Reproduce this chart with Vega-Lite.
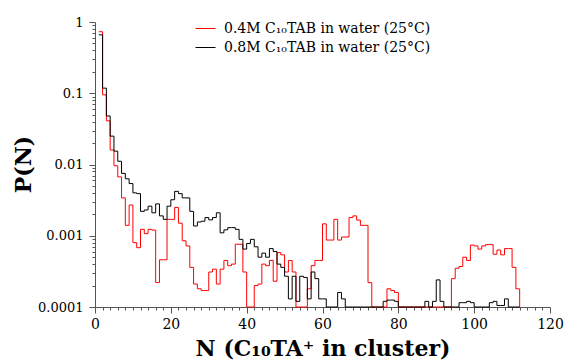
{
  "$schema": "https://vega.github.io/schema/vega-lite/v6.json",
  "width": 455,
  "height": 285,
  "autosize": {"type": "none"},
  "padding": {"left": 95, "top": 22, "right": 18, "bottom": 56},
  "background": "white",
  "config": {"view": {"stroke": null}, "font": "DejaVu Serif"},
  "data": {
    "values": [
      {"N": 1, "r": 0.73, "k": 0.66},
      {"N": 2, "r": 0.095, "k": 0.118},
      {"N": 3, "r": 0.041, "k": 0.048},
      {"N": 4, "r": 0.016, "k": 0.025},
      {"N": 5, "r": 0.0096, "k": 0.0154},
      {"N": 6, "r": 0.0067, "k": 0.0111},
      {"N": 7, "r": 0.0034, "k": 0.0075},
      {"N": 8, "r": 0.0014, "k": 0.0063},
      {"N": 9, "r": 0.0027, "k": 0.0054},
      {"N": 10, "r": 0.0008, "k": 0.004},
      {"N": 11, "r": 0.00068, "k": 0.0039},
      {"N": 12, "r": 0.00123, "k": 0.0022},
      {"N": 13, "r": 0.00107, "k": 0.0023},
      {"N": 14, "r": 0.00123, "k": 0.0026},
      {"N": 15, "r": 0.0012, "k": 0.0021},
      {"N": 16, "r": 0.00022, "k": 0.0028},
      {"N": 17, "r": 0.00046, "k": 0.0019},
      {"N": 18, "r": 0.00046, "k": 0.0017},
      {"N": 19, "r": 0.0017, "k": 0.0026},
      {"N": 20, "r": 0.0017, "k": 0.0032},
      {"N": 21, "r": 0.0025, "k": 0.0042},
      {"N": 22, "r": 0.0015, "k": 0.0039},
      {"N": 23, "r": 0.00085, "k": 0.0034},
      {"N": 24, "r": 0.00072, "k": 0.0034},
      {"N": 25, "r": 0.00036, "k": 0.0022},
      {"N": 26, "r": 0.00021, "k": 0.00137},
      {"N": 27, "r": 0.00018, "k": 0.00156},
      {"N": 28, "r": 0.00017, "k": 0.0016},
      {"N": 29, "r": 0.00017, "k": 0.0018},
      {"N": 30, "r": 0.00031, "k": 0.00167},
      {"N": 31, "r": 0.00034, "k": 0.0018},
      {"N": 32, "r": 0.00021, "k": 0.0021},
      {"N": 33, "r": 0.00034, "k": 0.0011},
      {"N": 34, "r": 0.00045, "k": 0.00121},
      {"N": 35, "r": 0.00038, "k": 0.0013},
      {"N": 36, "r": 0.0004, "k": 0.0013},
      {"N": 37, "r": 0.00076, "k": 0.00123},
      {"N": 38, "r": 0.00076, "k": 0.00089},
      {"N": 39, "r": 0.00031, "k": 0.00065},
      {"N": 40, "r": 0.0001, "k": 0.00078},
      {"N": 41, "r": 0.0001, "k": 0.00089},
      {"N": 42, "r": 0.0002, "k": 0.0007},
      {"N": 43, "r": 0.00021, "k": 0.0005},
      {"N": 44, "r": 0.0004, "k": 0.00057},
      {"N": 45, "r": 0.00038, "k": 0.0005},
      {"N": 46, "r": 0.00045, "k": 0.00066},
      {"N": 47, "r": 0.00023, "k": 0.0006},
      {"N": 48, "r": 0.00058, "k": 0.0004},
      {"N": 49, "r": 0.00054, "k": 0.00036},
      {"N": 50, "r": 0.00031, "k": 0.00027},
      {"N": 51, "r": 0.00045, "k": 0.00013},
      {"N": 52, "r": 0.00031, "k": 0.00027},
      {"N": 53, "r": 0.0001, "k": 0.00012},
      {"N": 54, "r": 0.0001, "k": 0.00027},
      {"N": 55, "r": 0.0001, "k": 0.00026},
      {"N": 56, "r": 0.00018, "k": 0.00013},
      {"N": 57, "r": 0.00038, "k": 0.00031},
      {"N": 58, "r": 0.00045, "k": 0.00025},
      {"N": 59, "r": 0.00045, "k": 0.00013},
      {"N": 60, "r": 0.00147, "k": 0.00013},
      {"N": 61, "r": 0.00087, "k": 0.0001},
      {"N": 62, "r": 0.00087, "k": 0.0001},
      {"N": 63, "r": 0.0017, "k": 0.0001},
      {"N": 64, "r": 0.00087, "k": 0.00016},
      {"N": 65, "r": 0.00096, "k": 0.00013},
      {"N": 66, "r": 0.00096, "k": 0.0001},
      {"N": 67, "r": 0.0018, "k": 0.0001},
      {"N": 68, "r": 0.0019, "k": 0.0001},
      {"N": 69, "r": 0.00166, "k": 0.0001},
      {"N": 70, "r": 0.0014, "k": 0.0001},
      {"N": 71, "r": 0.0014, "k": 0.0001},
      {"N": 72, "r": 0.00022, "k": 0.0001},
      {"N": 73, "r": 0.0001, "k": 0.0001},
      {"N": 74, "r": 0.0001, "k": 0.0001},
      {"N": 75, "r": 0.0001, "k": 0.0001},
      {"N": 76, "r": 0.0001, "k": 0.00012},
      {"N": 77, "r": 0.00018, "k": 0.000125},
      {"N": 78, "r": 0.00017, "k": 0.000125},
      {"N": 79, "r": 0.00016, "k": 0.00012},
      {"N": 80, "r": 0.0001, "k": 0.0001},
      {"N": 81, "r": 0.0001, "k": 0.0001},
      {"N": 82, "r": 0.0001, "k": 0.0001},
      {"N": 83, "r": 0.0001, "k": 0.0001},
      {"N": 84, "r": 0.0001, "k": 0.0001},
      {"N": 85, "r": 0.0001, "k": 0.0001},
      {"N": 86, "r": 0.0001, "k": 0.0001},
      {"N": 87, "r": 0.0001, "k": 0.00012},
      {"N": 88, "r": 0.0001, "k": 0.0001},
      {"N": 89, "r": 0.0001, "k": 0.00012},
      {"N": 90, "r": 0.0001, "k": 0.00024},
      {"N": 91, "r": 0.0001, "k": 0.00012},
      {"N": 92, "r": 0.0001, "k": 0.0001},
      {"N": 93, "r": 0.0001, "k": 0.0001},
      {"N": 94, "r": 0.00025, "k": 0.0001},
      {"N": 95, "r": 0.00035, "k": 0.0001},
      {"N": 96, "r": 0.00037, "k": 0.000115},
      {"N": 97, "r": 0.0005, "k": 0.000115},
      {"N": 98, "r": 0.00045, "k": 0.00012},
      {"N": 99, "r": 0.00074, "k": 0.000115},
      {"N": 100, "r": 0.00072, "k": 0.0001},
      {"N": 101, "r": 0.00065, "k": 0.0001},
      {"N": 102, "r": 0.00072, "k": 0.0001},
      {"N": 103, "r": 0.00075, "k": 0.0001},
      {"N": 104, "r": 0.00075, "k": 0.000115},
      {"N": 105, "r": 0.00055, "k": 0.00012},
      {"N": 106, "r": 0.00063, "k": 0.000105},
      {"N": 107, "r": 0.00054, "k": 0.000105},
      {"N": 108, "r": 0.00066, "k": 0.00013},
      {"N": 109, "r": 0.00066, "k": 0.0001},
      {"N": 110, "r": 0.00036, "k": 0.0001},
      {"N": 111, "r": 0.00018, "k": 0.0001},
      {"N": 112, "r": 0.0001, "k": 0.0001}
    ]
  },
  "transform": [{"fold": ["r", "k"], "as": ["series", "P"]}],
  "mark": {"type": "line", "interpolate": "step-after", "strokeWidth": 1},
  "encoding": {
    "x": {
      "field": "N",
      "type": "quantitative",
      "scale": {"domain": [0, 120], "nice": false, "zero": false},
      "axis": {
        "values": [0,2,4,6,8,10,12,14,16,18,20,22,24,26,28,30,32,34,36,38,40,42,44,46,48,50,52,54,56,58,60,62,64,66,68,70,72,74,76,78,80,82,84,86,88,90,92,94,96,98,100,102,104,106,108,110,112,114,116,118,120],
        "labelExpr": "datum.value % 20 == 0 ? datum.label : ''",
        "tickSize": {"condition": {"test": "datum.value % 20 == 0", "value": 6}, "value": 3},
        "title": "N (C₁₀TA⁺ in cluster)",
        "titleFont": "DejaVu Serif",
        "titleFontSize": 22,
        "titleFontWeight": "bold",
        "titleColor": "#000000",
        "titleBaseline": "alphabetic",
        "titleY": 48,
        "labelFont": "DejaVu Serif",
        "labelFontSize": 14,
        "labelColor": "#000000",
        "labelPadding": 4,
        "labelOverlap": false,
        "labelFlush": false,
        "grid": false,
        "domainColor": "#555555",
        "tickColor": "#555555"
      }
    },
    "y": {
      "field": "P",
      "type": "quantitative",
      "scale": {"type": "log", "domain": [0.0001, 1], "nice": false},
      "axis": {
        "values": [0.0001,0.0002,0.0003,0.0004,0.0005,0.0006,0.0007,0.0008,0.0009,0.001,0.002,0.003,0.004,0.005,0.006,0.007,0.008,0.009,0.01,0.02,0.03,0.04,0.05,0.06,0.07,0.08,0.09,0.1,0.2,0.3,0.4,0.5,0.6,0.7,0.8,0.9,1],
        "labelExpr": "datum.value == 1 ? '1' : datum.value == 0.1 ? '0.1' : datum.value == 0.01 ? '0.01' : datum.value == 0.001 ? '0.001' : datum.value == 0.0001 ? '0.0001' : ''",
        "tickSize": {"condition": {"test": "datum.value == 1 || datum.value == 0.1 || datum.value == 0.01 || datum.value == 0.001 || datum.value == 0.0001", "value": 6}, "value": 3},
        "title": "P(N)",
        "titleFont": "DejaVu Serif",
        "titleFontSize": 22,
        "titleFontWeight": "bold",
        "titleColor": "#000000",
        "titleAngle": -90,
        "titleBaseline": "middle",
        "titleAlign": "center",
        "titleX": -72,
        "titleY": 142,
        "labelFont": "DejaVu Serif",
        "labelFontSize": 13,
        "labelColor": "#000000",
        "labelPadding": 6,
        "labelOverlap": false,
        "labelFlush": false,
        "grid": false,
        "domainColor": "#555555",
        "tickColor": "#555555"
      }
    },
    "color": {
      "field": "series",
      "type": "nominal",
      "scale": {"domain": ["r", "k"], "range": ["#ff0000", "#000000"]},
      "legend": {
        "orient": "none",
        "legendX": 100,
        "legendY": -4,
        "title": null,
        "symbolType": "stroke",
        "symbolSize": 400,
        "symbolStrokeWidth": 1,
        "rowPadding": 1,
        "labelOffset": 8,
        "labelLimit": 400,
        "labelFont": "DejaVu Serif",
        "labelFontSize": 14,
        "labelColor": "#000000",
        "labelExpr": "datum.value == 'r' ? '0.4M C₁₀TAB in water (25°C)' : '0.8M C₁₀TAB in water (25°C)'"
      }
    }
  }
}
